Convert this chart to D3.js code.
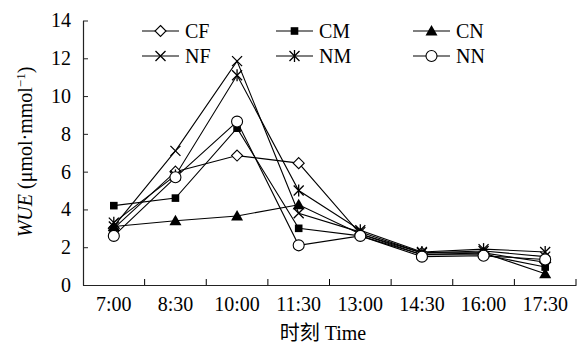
<!DOCTYPE html>
<html>
<head>
<meta charset="utf-8">
<script src="https://cdn.jsdelivr.net/npm/d3@7/dist/d3.min.js"></script>
<style>
  body { margin: 0; background: #fff; }
  svg { display: block; font-family: "Liberation Serif", "Times New Roman", "Noto Sans CJK SC", serif; }
</style>
</head>
<body>
<div id="chart"></div>
<script>
const times = ["7:00", "8:30", "10:00", "11:30", "13:00", "14:30", "16:00", "17:30"];
const yTicks = [0, 2, 4, 6, 8, 10, 12, 14];

// WUE values
const cf = [3.0, 6.0, 6.85, 6.45, 2.7, 1.7, 1.7, 1.2];
const cm = [4.2, 4.6, 8.3, 3.0, 2.6, 1.6, 1.6, 0.95];
const cn = [3.1, 3.4, 3.65, 4.25, 2.7, 1.6, 1.7, 0.6];
const nf = [3.1, 7.1, 11.85, 3.8, 2.8, 1.7, 1.8, 1.5];
const nm = [3.3, 5.8, 11.1, 5.0, 2.9, 1.75, 1.9, 1.75];
const nn = [2.6, 5.7, 8.65, 2.1, 2.6, 1.5, 1.55, 1.35];

const seriesNames = ["CF", "CM", "CN", "NF", "NM", "NN"];
const seriesValues = [cf, cm, cn, nf, nm, nn];
const markers = ["diamond", "square", "triangle", "cross", "star", "circle"];

const width = 577;
const height = 345;
const margin = { top: 20.5, right: 1, bottom: 60, left: 83 };

const svg = d3.select("#chart").append("svg").attr("width", width).attr("height", height);

const x = d3.scaleBand().domain(times).range([margin.left, width - margin.right]);
const y = d3.scaleLinear().domain([0, 14]).range([height - margin.bottom, margin.top]);

// Y axis, ticks pointing inward
const yAxis = svg
  .append("g")
  .attr("transform", `translate(${margin.left},0)`)
  .call(d3.axisLeft(y).tickValues(yTicks).tickSizeInner(-5).tickSizeOuter(0).tickPadding(12));
yAxis.selectAll("text").attr("font-size", "20px").attr("fill", "#000").attr("font-family", "Liberation Serif");

// X axis: labels at band centres, tick marks on band boundaries
const xAxis = svg
  .append("g")
  .attr("transform", `translate(0,${y(0)})`)
  .call(d3.axisBottom(x).tickSize(0).tickPadding(12));
xAxis.selectAll("text").attr("font-size", "20px").attr("fill", "#000").attr("font-family", "Liberation Serif");

const bounds = times.map((t) => x(t)).concat([x.range()[1]]).slice(1);
svg
  .append("g")
  .selectAll("line")
  .data(bounds)
  .enter()
  .append("line")
  .attr("x1", (d) => d)
  .attr("x2", (d) => d)
  .attr("y1", y(0))
  .attr("y2", y(0) - 6)
  .attr("stroke", "#000");

svg.selectAll(".domain").attr("stroke", "#222").attr("stroke-width", 1.2);
svg.selectAll(".tick line").attr("stroke", "#222");

// Axis titles
svg
  .append("text")
  .attr("x", 323)
  .attr("y", 340)
  .attr("text-anchor", "middle")
  .attr("font-size", "20px")
  .text("时刻 Time")
  .attr("font-family", "Liberation Serif, Noto Sans CJK SC");

const yTitle = svg
  .append("text")
  .attr("transform", "translate(32,152) rotate(-90)")
  .attr("text-anchor", "middle")
  .attr("font-size", "20px");
yTitle.append("tspan").attr("font-style", "italic").text("WUE");
yTitle.append("tspan").text(" (μmol·mmol");
yTitle.append("tspan").attr("font-size", "13px").attr("dy", "-7").text("−1");
yTitle.append("tspan").attr("dy", "7").text(")");

// Marker drawing
function drawMarker(g, type, cx, cy) {
  if (type === "diamond") {
    g.append("path")
      .attr("d", `M${cx},${cy - 5.5}L${cx + 5.5},${cy}L${cx},${cy + 5.5}L${cx - 5.5},${cy}Z`)
      .attr("fill", "#fff")
      .attr("stroke", "#000")
      .attr("stroke-width", 1.1);
  } else if (type === "square") {
    g.append("rect").attr("x", cx - 3.8).attr("y", cy - 3.8).attr("width", 7.6).attr("height", 7.6).attr("fill", "#000");
  } else if (type === "triangle") {
    g.append("path").attr("d", `M${cx},${cy - 6}L${cx + 6},${cy + 4.5}L${cx - 6},${cy + 4.5}Z`).attr("fill", "#000");
  } else if (type === "cross" || type === "star") {
    const s = 5;
    g.append("path")
      .attr("d", `M${cx - s},${cy - s}L${cx + s},${cy + s}M${cx - s},${cy + s}L${cx + s},${cy - s}`)
      .attr("stroke", "#000")
      .attr("stroke-width", 1.3)
      .attr("fill", "none");
    if (type === "star") {
      g.append("path").attr("d", `M${cx},${cy - 6}L${cx},${cy + 6}`).attr("stroke", "#000").attr("stroke-width", 1.3);
    }
  } else if (type === "circle") {
    g.append("circle").attr("cx", cx).attr("cy", cy).attr("r", 5.5).attr("fill", "#fff").attr("stroke", "#000").attr("stroke-width", 1.1);
  }
}

// Lines first, then markers on top
const line = d3
  .line()
  .x((d, i) => x(times[i]) + x.bandwidth() / 2)
  .y((d) => y(d));

seriesValues.forEach((vals) => {
  svg.append("path").datum(vals).attr("d", line).attr("fill", "none").attr("stroke", "#000").attr("stroke-width", 1.1);
});

seriesValues.forEach((vals, si) => {
  const g = svg.append("g");
  vals.forEach((v, i) => drawMarker(g, markers[si], x(times[i]) + x.bandwidth() / 2, y(v)));
});

// Legend, 3 columns x 2 rows
const legendCols = [142, 276, 413];
const legendRows = [31, 56];
seriesNames.forEach((name, i) => {
  const lx = legendCols[i % 3];
  const ly = legendRows[Math.floor(i / 3)];
  const g = svg.append("g");
  g.append("line").attr("x1", lx).attr("x2", lx + 37).attr("y1", ly).attr("y2", ly).attr("stroke", "#000").attr("stroke-width", 1.1);
  drawMarker(g, markers[i], lx + 18.5, ly);
  g.append("text")
    .attr("x", lx + 43)
    .attr("y", ly)
    .attr("dy", "0.35em")
    .attr("font-size", "20px")
    .text(name);
});
</script>
</body>
</html>
